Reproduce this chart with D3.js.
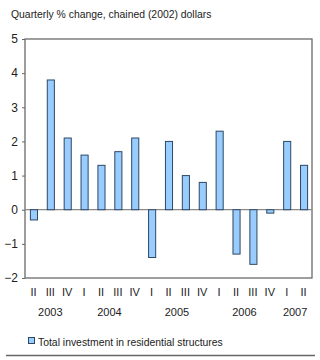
<!DOCTYPE html>
<html><head><meta charset="utf-8">
<script src="https://cdn.jsdelivr.net/npm/d3@7"></script>
<style>body{margin:0;background:#fff}svg{display:block}text{font-family:"Liberation Sans",Arial,sans-serif;fill:#222}</style>
</head><body><svg id="c" width="320" height="360"></svg>
<script>
const quarters = ["II","III","IV","I","II","III","IV","I","II","III","IV","I","II","III","IV","I","II"];
const years = ["2003","2004","2005","2006","2007"];
const yearSpans = [[0,2],[3,6],[7,10],[11,14],[15,16]];
const values = [-0.3,3.8,2.1,1.6,1.3,1.7,2.1,-1.4,2.0,1.0,0.8,2.3,-1.3,-1.6,-0.1,2.0,1.3];
const yTicks = [5,4,3,2,1,0,-1,-2];
const seriesName = "Total investment in residential structures";
const title = "Quarterly % change, chained (2002) dollars";

const svg = d3.select("#c");
const L=25, R=312, T=39, B=278;
const x = d3.scaleBand().domain(d3.range(values.length)).range([L,R]).paddingInner(0.58).paddingOuter(0.29);
const y = d3.scaleLinear().domain([-2,5]).range([B,T]);

svg.append("text").attr("x",11).attr("y",18).attr("font-size",10.4).text(title);

// y axis
const ya = svg.append("g").attr("transform",`translate(${L},0)`).call(d3.axisLeft(y).tickValues(yTicks).tickSize(3).tickFormat(d3.format("d")));
ya.select(".domain").remove();
ya.selectAll("line").attr("stroke","#666");
ya.selectAll("text").attr("font-size",12).attr("font-family","Liberation Sans, Arial, sans-serif").attr("fill","#222").attr("x",-7);

// frame
svg.append("rect").attr("x",L).attr("y",T).attr("width",R-L).attr("height",B-T).attr("fill","none").attr("stroke","#6a6a6a").attr("stroke-width",1.3);

// zero line
svg.append("line").attr("x1",L).attr("x2",R).attr("y1",y(0)).attr("y2",y(0)).attr("stroke","#8a8a8a").attr("stroke-width",1.3);

// bars
svg.append("g").selectAll("rect").data(values).join("rect")
  .attr("x",(d,i)=>x(i)+0.5).attr("width",x.bandwidth())
  .attr("y",d=>y(Math.max(0,d))).attr("height",d=>Math.abs(y(d)-y(0)))
  .attr("fill","#99ccff").attr("stroke","#2e4863").attr("stroke-width",1);

// x labels
svg.append("g").selectAll("text").data(quarters).join("text")
  .attr("x",(d,i)=>x(i)+x.bandwidth()/2).attr("y",296).attr("text-anchor","middle").attr("font-size",11).text(d=>d);
const cx = i => x(i)+x.bandwidth()/2;
svg.append("g").selectAll("text").data(years).join("text")
  .attr("x",(d,i)=>(cx(yearSpans[i][0])+cx(yearSpans[i][1]))/2).attr("y",316).attr("text-anchor","middle").attr("font-size",11).text(d=>d);

// legend
svg.append("rect").attr("x",28.5).attr("y",337.5).attr("width",6).attr("height",6).attr("fill","#99ccff").attr("stroke","#2e4863");
svg.append("text").attr("x",38).attr("y",346).attr("font-size",10.4).text(seriesName);
svg.append("line").attr("x1",6).attr("x2",315).attr("y1",355.5).attr("y2",355.5).attr("stroke","#666").attr("stroke-width",1.5);
</script></body></html>
